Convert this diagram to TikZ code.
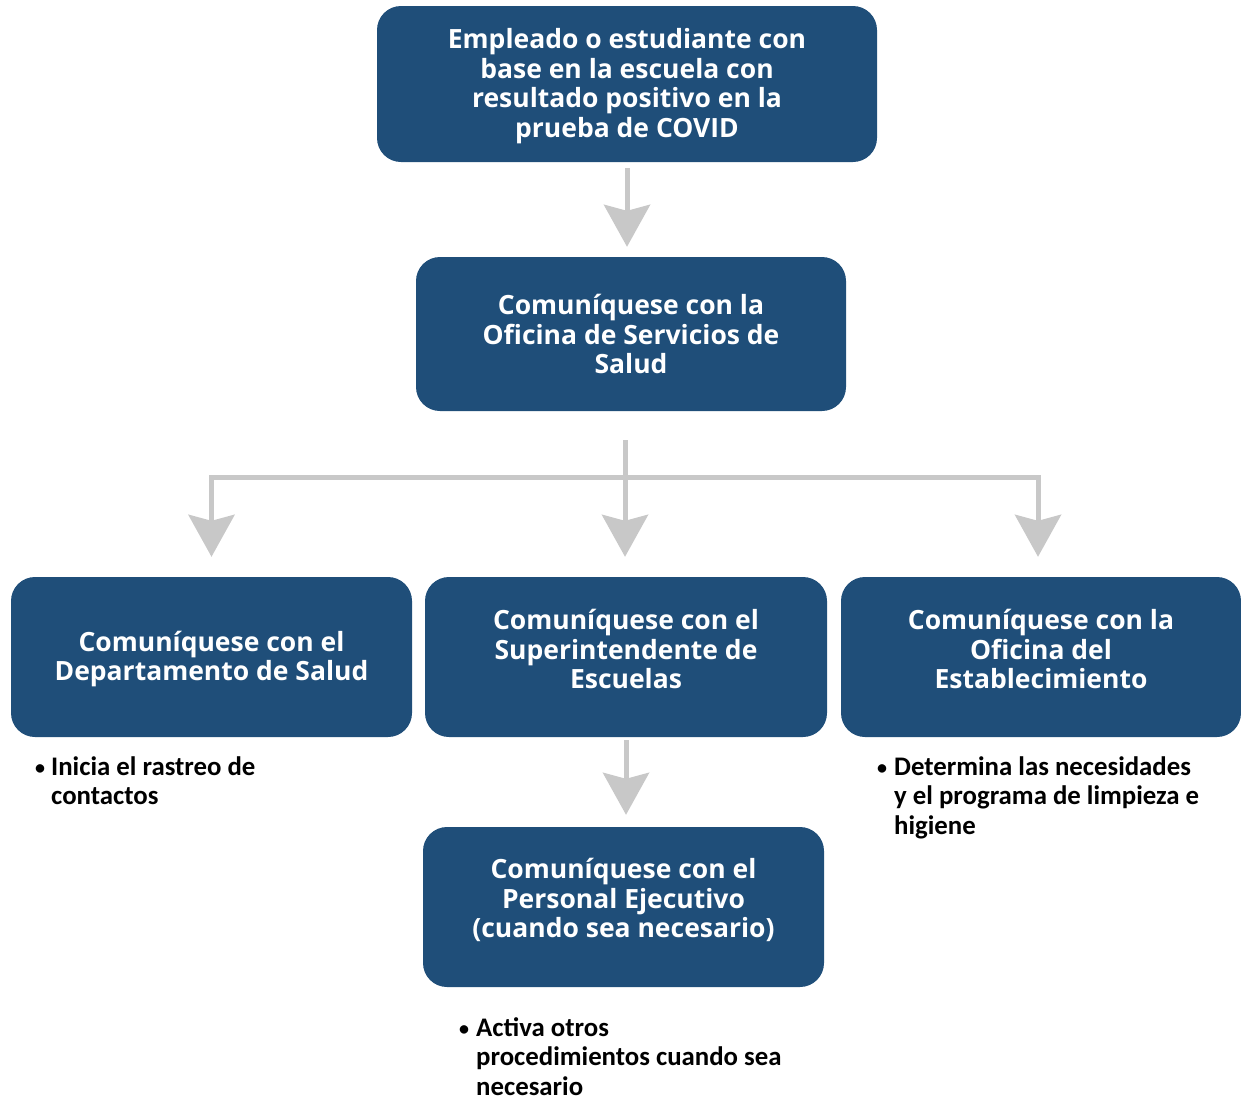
\documentclass[tikz,border=0pt]{standalone}
\usepackage{fontspec}
\setmainfont{Open Sans}
\newfontfamily\calfont{Carlito}
\usetikzlibrary{arrows.meta}
\definecolor{boxblue}{RGB}{31,78,121}
\definecolor{arrowgrey}{RGB}{200,200,200}
\newcommand{\bul}{\raisebox{1pt}{\fontsize{20}{20}\selectfont•}}
\begin{document}
\begin{tikzpicture}[x=1pt,y=-1pt,
  box/.style={fill=boxblue, rounded corners=24pt, text=white, align=center,
    font=\fontsize{26.5}{29.5}\selectfont\bfseries, inner sep=0pt},
  flow/.style={draw=arrowgrey, line width=5pt,
    -{Stealth[length=42pt,width=46pt,inset=6pt]}},
  bullet/.style={anchor=base west, inner sep=0pt,
    font=\calfont\fontsize{26.8}{29.5}\selectfont\bfseries}
]
\useasboundingbox (0,0) rectangle (1241,1101);

\node[box, minimum width=500pt, minimum height=156pt, text depth=2.5pt] (top) at (627,84)
  {Empleado o estudiante con\\base en la escuela con\\resultado positivo en la\\prueba de COVID};
\node[box, minimum width=430pt, minimum height=154pt] (sec) at (631,334)
  {Comuníquese con la\\Oficina de Servicios de\\Salud};
\node[box, minimum width=401pt, minimum height=160pt, text depth=2.5pt] (left) at (211.5,657)
  {Comuníquese con el\\Departamento de Salud};
\node[box, minimum width=402pt, minimum height=160pt, text depth=16pt] (mid) at (626,657)
  {Comuníquese con el\\Superintendente de\\Escuelas};
\node[box, minimum width=400pt, minimum height=160pt, text depth=16pt] (right) at (1041,657)
  {Comuníquese con la\\Oficina del\\Establecimiento};
\node[box, minimum width=401pt, minimum height=160pt, text depth=18pt] (bot) at (623.5,907)
  {Comuníquese con el\\Personal Ejecutivo\\(cuando sea necesario)};

\coordinate (j) at (625,477);
\draw[flow, shorten <=6pt, shorten >=10pt] (top.south) -- (top.south |- sec.north);
\draw[flow, shorten <=29pt, shorten >=20pt] (j |- sec.south) -- (j |- mid.north);
\draw[flow, shorten >=20pt] (j) -| (left.north);
\draw[flow, shorten >=20pt] (j) -| ([xshift=-3pt]right.north);
\draw[flow, shorten <=3pt, shorten >=12pt] (mid.south) -- (mid.south |- bot.north);

\node[bullet] (b1) at (35,775)
  {\begin{tabular}[t]{@{}p{16pt}@{}l@{}}\bul & Inicia el rastreo de\\ & contactos\end{tabular}};
\node[bullet] (b2) at (877,775)
  {\begin{tabular}[t]{@{}p{17pt}@{}l@{}}\bul & Determina las necesidades\\ & y el programa de limpieza e\\ & higiene\end{tabular}};
\node[bullet] (b3) at (459,1036)
  {\begin{tabular}[t]{@{}p{17pt}@{}l@{}}\bul & Activa otros\\ & procedimientos cuando sea\\ & necesario\end{tabular}};
\end{tikzpicture}
\end{document}
